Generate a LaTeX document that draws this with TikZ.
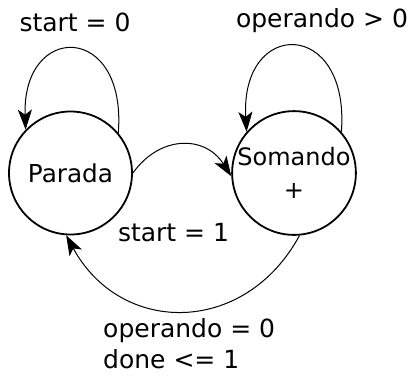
\documentclass[tikz,border=0pt]{standalone}
\usepackage{fontspec}
\setmainfont{DejaVu Sans}
\usetikzlibrary{arrows.meta}
\begin{document}
\begin{tikzpicture}[x=1pt,y=-1pt,
  state/.style={circle,draw,line width=1.8pt,minimum size=123pt,inner sep=0pt,align=center},
  lbl/.style={inner sep=0pt,font=\fontsize{25}{31}\selectfont},
  trans/.style={line width=1pt,-{Stealth[length=20pt,width=14pt,inset=5pt]}}]
\useasboundingbox (0,0) rectangle (412,376);
\node[state,font=\fontsize{24.7}{33}\selectfont] (p) at (70.5,173) {Parada};
\node[state,font=\fontsize{24}{33}\selectfont] (s) at (294,173) {Somando\hspace{12pt}\\+};
\node[lbl] (l0) at (75,22) {start = 0};
\node[lbl] (l1) at (322,21) {operando > 0};
\node[lbl] (l2) at (173.5,233) {start = 1};
\node[lbl,anchor=north west,align=left] (l3) at (103,318) {operando = 0\\done <= 1};
\draw[trans] (p.40) .. controls (127,22) and (22,22) .. (p.136);
\draw[trans] (s.41) .. controls (350,18) and (240,18) .. (s.139);
\draw[trans] (p.0) .. controls (160,135) and (205,135) .. (s.183);
\draw[trans] (s.-85) .. controls (245,336) and (121,336) .. (p.-94);
\end{tikzpicture}
\end{document}
